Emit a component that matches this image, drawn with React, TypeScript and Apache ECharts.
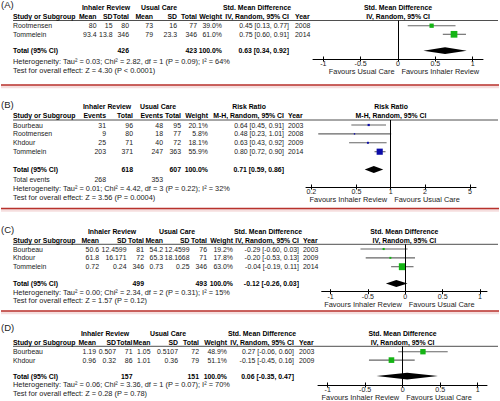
import React, { useEffect, useRef } from "react";
import * as echarts from "echarts";

// ---------------- Data ----------------
const smdTicks = [-1, -0.5, 0, 0.5, 1];
const rrTicks = [0.2, 0.5, 1, 2, 5];

// Panel A – Std. Mean Difference
const aStudies = ["Rootmensen", "Tommelein"];
const aIrMean = [80, 93.4];
const aIrSd = [15, 13.8];
const aIrTotal = [80, 346];
const aUcMean = [73, 79];
const aUcSd = [16, 23.3];
const aUcTotal = [77, 346];
const aWeight = [39.0, 61.0];
const aEst = [0.45, 0.75];
const aLo = [0.13, 0.6];
const aHi = [0.77, 0.91];
const aYear = [2008, 2014];
const aTotals = [426, 423];
const aPooled = [0.63, 0.34, 0.92];
const aHet = "Heterogeneity: Tau² = 0.03; Chi² = 2.82, df = 1 (P = 0.09); I² = 64%";
const aTest = "Test for overall effect: Z = 4.30 (P < 0.0001)";

// Panel B – Risk Ratio
const bStudies = ["Bourbeau", "Rootmensen", "Khdour", "Tommelein"];
const bIrEvents = [31, 9, 25, 203];
const bIrTotal = [96, 80, 71, 371];
const bUcEvents = [48, 18, 40, 247];
const bUcTotal = [95, 77, 72, 363];
const bWeight = [20.1, 5.8, 18.1, 55.9];
const bEst = [0.64, 0.48, 0.63, 0.8];
const bLo = [0.45, 0.23, 0.43, 0.72];
const bHi = [0.91, 1.01, 0.92, 0.9];
const bYear = [2003, 2008, 2009, 2014];
const bTotals = [618, 607];
const bTotalEvents = [268, 353];
const bPooled = [0.71, 0.59, 0.86];
const bHet = "Heterogeneity: Tau² = 0.01; Chi² = 4.42, df = 3 (P = 0.22); I² = 32%";
const bTest = "Test for overall effect: Z = 3.56 (P = 0.0004)";

// Panel C – Std. Mean Difference
const cStudies = ["Bourbeau", "Khdour", "Tommelein"];
const cIrMean = [50.6, 61.8, 0.72];
const cIrSd = [12.4599, 16.171, 0.24];
const cIrTotal = [81, 72, 346];
const cUcMean = [54.2, 65.3, 0.73];
const cUcSd = [12.4599, 18.1668, 0.25];
const cUcTotal = [76, 71, 346];
const cWeight = [19.2, 17.8, 63.0];
const cEst = [-0.29, -0.2, -0.04];
const cLo = [-0.6, -0.53, -0.19];
const cHi = [0.03, 0.13, 0.11];
const cYear = [2003, 2009, 2014];
const cTotals = [499, 493];
const cPooled = [-0.12, -0.26, 0.03];
const cHet = "Heterogeneity: Tau² = 0.00; Chi² = 2.34, df = 2 (P = 0.31); I² = 15%";
const cTest = "Test for overall effect: Z = 1.57 (P = 0.12)";

// Panel D – Std. Mean Difference
const dStudies = ["Bourbeau", "Khdour"];
const dIrMean = [1.19, 0.96];
const dIrSd = [0.507, 0.32];
const dIrTotal = [71, 86];
const dUcMean = [1.05, 1.01];
const dUcSd = [0.5107, 0.36];
const dUcTotal = [72, 79];
const dWeight = [48.9, 51.1];
const dEst = [0.27, -0.15];
const dLo = [-0.06, -0.45];
const dHi = [0.6, 0.16];
const dYear = [2003, 2009];
const dTotals = [157, 151];
const dPooled = [0.06, -0.35, 0.47];
const dHet = "Heterogeneity: Tau² = 0.06; Chi² = 3.36, df = 1 (P = 0.07); I² = 70%";
const dTest = "Test for overall effect: Z = 0.28 (P = 0.78)";

// ---------------- Helpers ----------------
const FONT = "Liberation Sans, Arial, Helvetica, sans-serif";
const FS = 6.9;
const FS_BOLD = 6.9;
const FS_NOTE = 7.4;
const GREEN = "#14b414";
const BLUE = "#0c0ca8";

const s = (v: number) => String(v);
const f2 = (v: number) => v.toFixed(2);
const pct = (w: number) => `${w.toFixed(1)}%`;
const ciText = (e: number, l: number, h: number) => `${f2(e)} [${f2(l)}, ${f2(h)}]`;

function txt(text: string, x: number, y: number, align = "left", bold = false, size?: number) {
  return {
    type: "text",
    x,
    y,
    silent: true,
    style: {
      text,
      x: 0,
      y: 0,
      fill: bold ? "#000" : "#222",
      fontSize: size != null ? size : bold ? FS_BOLD : FS,
      fontWeight: bold ? "bold" : "normal",
      fontFamily: FONT,
      textAlign: align,
      align,
      textVerticalAlign: "middle",
      verticalAlign: "middle",
    },
  };
}

function hline(x1: number, x2: number, y: number, stroke: string, lineWidth: number) {
  return { type: "line", silent: true, shape: { x1, y1: y, x2, y2: y }, style: { stroke, lineWidth } };
}

const smdCols = (irM: number[], irS: number[], irT: number[], ucM: number[], ucS: number[], ucT: number[], w: number[], tot: number[], xs: number[]) => [
  { h: "Mean", x: xs[0], v: irM.map(s), t: "" },
  { h: "SD", x: xs[1], v: irS.map(s), t: "" },
  { h: "Total", x: xs[2], v: irT.map(s), t: s(tot[0]) },
  { h: "Mean", x: xs[3], v: ucM.map(s), t: "" },
  { h: "SD", x: xs[4], v: ucS.map(s), t: "" },
  { h: "Total", x: xs[5], v: ucT.map(s), t: s(tot[1]) },
  { h: "Weight", x: xs[6], v: w.map(pct), t: "100.0%" },
];

const panels = [
  {
    label: "(A)", labelY: 4.5, h1Y: 7, h2Y: 16, lineY: 20.5, rowY0: 25.7, dy: 8.6, totalGap: 1.9,
    hetY: 61, testY: 70, redY: 85,
    plot: { left: 313, right: 483, zeroX: 398, ppu: 74.7, axisY: 59 },
    log: false, color: GREEN, ticks: smdTicks,
    groups: [["Inhaler Review", 106], ["Usual Care", 159], ["Std. Mean Difference", 257]],
    plotTitle: "Std. Mean Difference", method: "IV, Random, 95% CI",
    cols: smdCols(aIrMean, aIrSd, aIrTotal, aUcMean, aUcSd, aUcTotal, aWeight, aTotals, [96.5, 112.5, 129, 153, 177, 197, 222]),
    ciX: 289, yearX: 295,
    studies: aStudies, est: aEst, lo: aLo, hi: aHi, weight: aWeight, year: aYear, pooled: aPooled,
    het: aHet, test: aTest, favL: "Favours Usual Care", favR: "Favours Inhaler Review", extra: null,
  },
  {
    label: "(B)", labelY: 104, h1Y: 106.7, h2Y: 115.7, lineY: 120, rowY0: 125, dy: 8.9, totalGap: 2.0,
    hetY: 188.7, testY: 197.3, redY: 208.5,
    plot: { left: 306, right: 476, zeroX: 390.7, ppu: 113.5, axisY: 187 },
    log: true, color: BLUE, ticks: rrTicks,
    groups: [["Inhaler Review", 107], ["Usual Care", 158], ["Risk Ratio", 249]],
    plotTitle: "Risk Ratio", method: "M-H, Random, 95% CI",
    cols: [
      { h: "Events", x: 106, v: bIrEvents.map(s), t: "" },
      { h: "Total", x: 133, v: bIrTotal.map(s), t: s(bTotals[0]) },
      { h: "Events", x: 163, v: bUcEvents.map(s), t: "" },
      { h: "Total", x: 181, v: bUcTotal.map(s), t: s(bTotals[1]) },
      { h: "Weight", x: 208, v: bWeight.map(pct), t: "100.0%" },
    ],
    ciX: 284, yearX: 288,
    studies: bStudies, est: bEst, lo: bLo, hi: bHi, weight: bWeight, year: bYear, pooled: bPooled,
    het: bHet, test: bTest, favL: "Favours Inhaler Review", favR: "Favours Usual Care",
    extra: { label: "Total events", y: 179.3, vals: [[s(bTotalEvents[0]), 106], [s(bTotalEvents[1]), 163]] },
  },
  {
    label: "(C)", labelY: 229, h1Y: 231.7, h2Y: 240, lineY: 244.3, rowY0: 249, dy: 8.85, totalGap: 1.9,
    hetY: 292.3, testY: 300.7, redY: 311,
    plot: { left: 321.7, right: 487, zeroX: 405.3, ppu: 74.7, axisY: 291.7 },
    log: false, color: GREEN, ticks: smdTicks,
    groups: [["Inhaler Review", 112], ["Usual Care", 177], ["Std. Mean Difference", 268]],
    plotTitle: "Std. Mean Difference", method: "IV, Random, 95% CI",
    cols: smdCols(cIrMean, cIrSd, cIrTotal, cUcMean, cUcSd, cUcTotal, cWeight, cTotals, [99, 126.5, 144, 163, 189.5, 207, 233]),
    ciX: 299, yearX: 303,
    studies: cStudies, est: cEst, lo: cLo, hi: cHi, weight: cWeight, year: cYear, pooled: cPooled,
    het: cHet, test: cTest, favL: "Favours Inhaler Review", favR: "Favours Usual Care", extra: null,
  },
  {
    label: "(D)", labelY: 327, h1Y: 333.3, h2Y: 342.7, lineY: 346.3, rowY0: 351.7, dy: 8.4, totalGap: 1.9,
    hetY: 384.3, testY: 393.3, redY: null,
    plot: { left: 318, right: 487, zeroX: 402.7, ppu: 75, axisY: 385 },
    log: false, color: GREEN, ticks: smdTicks,
    groups: [["Inhaler Review", 105], ["Usual Care", 168], ["Std. Mean Difference", 262]],
    plotTitle: "Std. Mean Difference", method: "IV, Random, 95% CI",
    cols: smdCols(dIrMean, dIrSd, dIrTotal, dUcMean, dUcSd, dUcTotal, dWeight, dTotals, [96, 116, 132.5, 150.5, 178, 199, 227]),
    ciX: 294, yearX: 299,
    studies: dStudies, est: dEst, lo: dLo, hi: dHi, weight: dWeight, year: dYear, pooled: dPooled,
    het: dHet, test: dTest, favL: "Favours Inhaler Review", favR: "Favours Usual Care", extra: null,
  },
];

function buildOption() {
  const grids: any[] = [];
  const xAxes: any[] = [];
  const yAxes: any[] = [];
  const series: any[] = [];
  const els: any[] = [];

  panels.forEach((p: any, gi: number) => {
    const n = p.studies.length;
    const totalRow = n - 1 + p.totalGap;
    const rowY = (r: number) => p.rowY0 + r * p.dy;
    const { left, right, zeroX, ppu, axisY } = p.plot;
    const midX = (left + right) / 2;

    grids.push({ left, top: p.lineY, width: right - left, height: axisY - p.lineY });
    const xmin = (left - zeroX) / ppu;
    const xmax = (right - zeroX) / ppu;
    const tickVals = p.log ? p.ticks.map((v: number) => Math.log10(v)) : p.ticks;
    const fmtTick = p.log
      ? (v: number) => String(Number(Math.pow(10, v).toPrecision(2)))
      : (v: number) => String(Number(Number(v).toFixed(2)));

    xAxes.push({
      type: "value", gridIndex: gi, min: xmin, max: xmax, position: "bottom",
      axisLine: { show: true, onZero: false, lineStyle: { color: "#000", width: 1 } },
      axisTick: { show: true, inside: false, length: 2.5, customValues: tickVals, lineStyle: { color: "#000", width: 1 } },
      axisLabel: { show: true, customValues: tickVals, margin: 1.5, fontSize: 7.1, color: "#222", fontFamily: FONT, formatter: fmtTick },
      splitLine: { show: false },
    });
    xAxes.push({
      type: "value", gridIndex: gi, min: xmin, max: xmax, position: "bottom",
      axisLine: { show: false, onZero: false },
      axisTick: { show: true, inside: true, length: 2.5, customValues: tickVals, lineStyle: { color: "#000", width: 1 } },
      axisLabel: { show: false },
      splitLine: { show: false },
    });
    yAxes.push({
      type: "value", gridIndex: gi, inverse: true, show: false,
      min: -(p.rowY0 - p.lineY) / p.dy, max: (axisY - p.rowY0) / p.dy,
      axisLine: { onZero: false }, splitLine: { show: false },
    });

    const tx = p.log ? (v: number) => Math.log10(v) : (v: number) => v;
    const data: number[][] = p.studies.map((_: string, i: number) => [tx(p.est[i]), tx(p.lo[i]), tx(p.hi[i]), i, p.weight[i], 0]);
    data.push([tx(p.pooled[0]), tx(p.pooled[1]), tx(p.pooled[2]), totalRow, 100, 1]);
    const color = p.color;

    series.push({
      type: "custom",
      coordinateSystem: "cartesian2d",
      xAxisIndex: gi * 2,
      yAxisIndex: gi,
      clip: false,
      silent: true,
      encode: { x: 0, y: 3 },
      data,
      renderItem: (params: any, api: any) => {
        const e = api.value(0), l = api.value(1), h = api.value(2), r = api.value(3), w = api.value(4), kind = api.value(5);
        const pe = api.coord([e, r]);
        const pl = api.coord([l, r]);
        const ph = api.coord([h, r]);
        if (kind === 1) {
          return {
            type: "polygon",
            shape: { points: [[pl[0], pe[1]], [pe[0], pe[1] - 3.4], [ph[0], pe[1]], [pe[0], pe[1] + 3.4]] },
            style: { fill: "#000" },
          };
        }
        const sz = Math.max(1.4, w * 0.11);
        return {
          type: "group",
          children: [
            { type: "line", shape: { x1: pl[0], y1: pe[1], x2: ph[0], y2: pe[1] }, style: { stroke: "#666", lineWidth: 1.1 } },
            { type: "rect", shape: { x: pe[0] - sz / 2, y: pe[1] - sz / 2, width: sz, height: sz }, style: { fill: color } },
          ],
        };
      },
      markLine: {
        silent: true,
        symbol: "none",
        label: { show: false },
        lineStyle: { color: "#000", width: 1, type: "solid" },
        data: [{ xAxis: 0 }],
      },
    });

    // ---- table texts ----
    els.push(txt(p.label, 1, p.labelY, "left", false, 9.5));
    p.groups.forEach((g: any) => els.push(txt(g[0], g[1], p.h1Y, "center", true)));
    els.push(txt(p.plotTitle, midX, p.h1Y, "center", true));
    els.push(txt("Study or Subgroup", 13, p.h2Y, "left", true));
    p.cols.forEach((c: any) => els.push(txt(c.h, c.x, p.h2Y, "right", true)));
    els.push(txt(p.method, p.ciX, p.h2Y, "right", true));
    els.push(txt("Year", p.yearX, p.h2Y, "left", true));
    els.push(txt(p.method, midX, p.h2Y, "center", true));
    els.push(hline(13, 498, p.lineY, "#222", 0.8));

    p.studies.forEach((name: string, i: number) => {
      const y = rowY(i);
      els.push(txt(name, 13, y, "left"));
      p.cols.forEach((c: any) => els.push(txt(c.v[i], c.x, y, "right")));
      els.push(txt(ciText(p.est[i], p.lo[i], p.hi[i]), p.ciX, y, "right"));
      els.push(txt(String(p.year[i]), p.yearX, y, "left"));
    });
    const ty = rowY(totalRow);
    els.push(txt("Total (95% CI)", 13, ty, "left", true));
    p.cols.forEach((c: any) => { if (c.t) els.push(txt(c.t, c.x, ty, "right", true)); });
    els.push(txt(ciText(p.pooled[0], p.pooled[1], p.pooled[2]), p.ciX, ty, "right", true));
    if (p.extra) {
      els.push(txt(p.extra.label, 13, p.extra.y, "left"));
      p.extra.vals.forEach((v: any) => els.push(txt(v[0], v[1], p.extra.y, "right")));
    }
    els.push(txt(p.het, 13, p.hetY, "left", false, FS_NOTE));
    els.push(txt(p.test, 13, p.testY, "left", false, FS_NOTE));

    // favours labels
    els.push(txt(p.favL, zeroX - 3.5, axisY + 12.8, "right", false, FS_NOTE));
    els.push(txt(p.favR, zeroX + 3.5, axisY + 12.8, "left", false, FS_NOTE));

    if (p.redY != null) {
      els.push(hline(1, 499, p.redY + 1.5, "rgba(200,70,70,0.18)", 3.5));
      els.push(hline(1, 499, p.redY, "#b8322c", 1.5));
    }
  });

  return {
    animation: false,
    backgroundColor: "#fff",
    textStyle: { fontFamily: FONT },
    grid: grids,
    xAxis: xAxes,
    yAxis: yAxes,
    series,
    graphic: { elements: els },
  };
}

export default function App() {
  const ref = useRef<HTMLDivElement>(null);
  useEffect(() => {
    document.body.style.margin = "0";
    if (!ref.current) return;
    const chart = echarts.init(ref.current, undefined, { renderer: "svg" });
    chart.setOption(buildOption() as any);
    return () => chart.dispose();
  }, []);
  return <div ref={ref} style={{ width: 500, height: 401 }} />;
}
